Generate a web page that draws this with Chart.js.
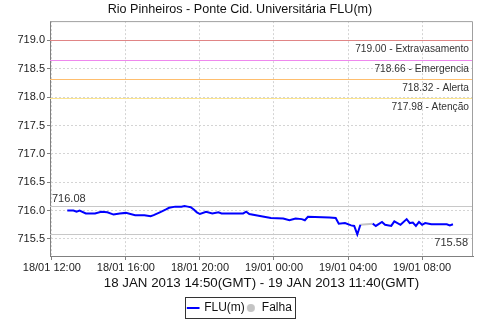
<!DOCTYPE html>
<html>
<head>
<meta charset="utf-8">
<title>Rio Pinheiros - Ponte Cid. Universitária FLU(m)</title>
<script src="https://cdn.jsdelivr.net/npm/chart.js@4/dist/chart.umd.min.js"></script>
<style>
  html, body { margin: 0; padding: 0; background: #fff; }
</style>
</head>
<body>
<canvas id="chart" width="480" height="320"></canvas>
<script>
// Data (local time, dd/mm hh:mm)
const floTimes = [
  "18/01 12:50", "18/01 13:10", "18/01 13:20", "18/01 13:30", "18/01 13:50", "18/01 14:20",
  "18/01 14:40", "18/01 15:00", "18/01 15:20", "18/01 15:40", "18/01 16:00", "18/01 16:30",
  "18/01 17:00", "18/01 17:20", "18/01 17:30", "18/01 17:50", "18/01 18:10", "18/01 18:20",
  "18/01 18:40", "18/01 19:00", "18/01 19:10", "18/01 19:20", "18/01 19:30", "18/01 19:40",
  "18/01 19:50", "18/01 20:00", "18/01 20:20", "18/01 20:40", "18/01 21:00", "18/01 21:10",
  "18/01 22:20", "18/01 22:30", "18/01 22:40", "18/01 23:10", "18/01 23:50", "19/01 00:30",
  "19/01 00:50", "19/01 01:10", "19/01 01:30", "19/01 01:40", "19/01 01:50", "19/01 03:00",
  "19/01 03:20", "19/01 03:30", "19/01 03:50", "19/01 04:10", "19/01 04:20", "19/01 04:30",
  "19/01 04:40", "19/01 05:00", "19/01 05:20", "19/01 05:30", "19/01 05:50", "19/01 06:00",
  "19/01 06:20", "19/01 06:30", "19/01 06:50", "19/01 07:10", "19/01 07:20", "19/01 07:30",
  "19/01 07:40", "19/01 07:50", "19/01 08:00", "19/01 08:10", "19/01 08:30", "19/01 09:20",
  "19/01 09:30", "19/01 09:40"
]
const floValues = [
  716.00, 716.00, 715.98, 716.00, 715.95, 715.95,
  715.98, 715.97, 715.93, 715.95, 715.96, 715.92,
  715.92, 715.90, 715.92, 715.97, 716.02, 716.05,
  716.07, 716.07, 716.08, 716.07, 716.06, 716.02,
  715.97, 715.94, 715.98, 715.95, 715.97, 715.95,
  715.95, 715.98, 715.94, 715.91, 715.87, 715.86,
  715.83, 715.86, 715.85, 715.83, 715.89, 715.88,
  715.87, 715.77, 715.78, 715.74, 715.73, 715.58,
  715.75, null, 715.77, 715.73, 715.80, 715.75,
  715.73, 715.81, 715.75, 715.85, 715.78, 715.79,
  715.73, 715.80, 715.75, 715.78, 715.76, 715.76,
  715.74, 715.76
]
// Failure gap (drawn grey)
const falhaTimes = ["19/01 04:40", "19/01 05:20"]
const falhaValues = [715.75, 715.77]

// Alarm levels
const limitValues = [719.00, 718.66, 718.32, 717.98]
const limitNames = ["Extravasamento", "Emergencia", "Alerta", "Atenção"]

// Axes
const xTicks = ["18/01 12:00", "18/01 16:00", "18/01 20:00", "19/01 00:00", "19/01 04:00", "19/01 08:00"]
const xRange = ["18/01 11:54", "19/01 10:45"]
const yTicks = [715.5, 716.0, 716.5, 717.0, 717.5, 718.0, 718.5, 719.0]
const yRange = [715.2, 719.34]

const chartTitle = "Rio Pinheiros - Ponte Cid. Universitária FLU(m)"
const xTitle = "18 JAN 2013 14:50(GMT) - 19 JAN 2013 11:40(GMT)"

const FONT = '"Liberation Sans", Arial, sans-serif'
const limitColors = ["rgb(224,133,133)", "rgb(238,136,238)", "rgb(255,190,110)", "rgb(251,228,143)"]
const PAD_BOTTOM = -4

function toMinutes(s) {
  const [d, hm] = s.split(" ")
  const day = Number(d.split("/")[0])
  const [h, m] = hm.split(":").map(Number)
  return (day - 18) * 1440 + h * 60 + m
}

function fmtMinutes(v) {
  const dayOff = Math.floor(v / 1440)
  const rest = v - dayOff * 1440
  const h = Math.floor(rest / 60)
  const m = rest % 60
  return (18 + dayOff) + "/01 " + String(h).padStart(2, "0") + ":" + String(m).padStart(2, "0")
}

// small grey dot for the "Falha" legend entry
const dot = document.createElement("canvas")
dot.width = 10
dot.height = 10
const dctx = dot.getContext("2d")
dctx.fillStyle = "#c4c4c4"
dctx.beginPath()
dctx.arc(5, 5, 4, 0, Math.PI * 2)
dctx.fill()

const validValues = floValues.filter((v) => v !== null)
const maxVal = Math.max(...validValues)
const minVal = Math.min(...validValues)

// Reference lines, labels and frame
const refLines = {
  id: "refLines",
  beforeDatasetsDraw(chart) {
    const { ctx, chartArea: a, scales: { y } } = chart
    ctx.save()
    ctx.setLineDash([])
    ctx.lineWidth = 1

    // alarm levels
    ctx.font = "10.2px " + FONT
    ctx.textAlign = "right"
    ctx.textBaseline = "middle"
    for (let i = 0; i < limitValues.length; i++) {
      const v = limitValues[i]
      const py = Math.round(y.getPixelForValue(v)) + 0.5
      ctx.beginPath()
      ctx.strokeStyle = limitColors[i]
      ctx.moveTo(a.left, py)
      ctx.lineTo(a.right, py)
      ctx.stroke()
      ctx.fillStyle = "#333"
      ctx.fillText(v.toFixed(2) + " - " + limitNames[i], a.right - 4, py + 8.5)
    }

    // max / min of the series
    ctx.font = "11px " + FONT
    ctx.strokeStyle = "#c8c8c8"
    const pMax = Math.round(y.getPixelForValue(maxVal)) + 0.5
    const pMin = Math.round(y.getPixelForValue(minVal)) + 0.5
    ctx.beginPath()
    ctx.moveTo(a.left, pMax)
    ctx.lineTo(a.right, pMax)
    ctx.moveTo(a.left, pMin)
    ctx.lineTo(a.right, pMin)
    ctx.stroke()
    ctx.fillStyle = "#333"
    ctx.textAlign = "left"
    ctx.fillText(maxVal.toFixed(2), a.left + 2, pMax - 8)
    ctx.textAlign = "right"
    ctx.fillText(minVal.toFixed(2), a.right - 5, pMin + 8)

    // top and right frame
    ctx.strokeStyle = "#a0a0a0"
    ctx.beginPath()
    ctx.moveTo(a.left, a.top + 0.5)
    ctx.lineTo(a.right - 0.5, a.top + 0.5)
    ctx.lineTo(a.right - 0.5, a.bottom)
    ctx.stroke()
    ctx.restore()
  },
  afterDraw(chart) {
    // box round the legend
    const boxes = chart.legend.legendHitBoxes
    if (!boxes || !boxes.length) return
    const first = boxes[0]
    const last = boxes[boxes.length - 1]
    const ctx = chart.ctx
    ctx.save()
    ctx.strokeStyle = "#333"
    ctx.lineWidth = 1
    const x1 = Math.round(first.left) - 2.5
    const x2 = Math.round(last.left + last.width) + 3.5
    const y1 = Math.round(first.top) - 4.5
    const y2 = Math.round(first.top + first.height) + 4.5
    ctx.strokeRect(x1, y1, x2 - x1, y2 - y1)
    ctx.restore()
  },
}

new Chart(document.getElementById("chart"), {
  type: "line",
  data: {
    datasets: [
      {
        label: "FLU(m)",
        data: floTimes.map((t, i) => ({ x: toMinutes(t), y: floValues[i] })),
        borderColor: "#0000ff",
        backgroundColor: "#0000ff",
        borderWidth: 2,
        pointRadius: 0,
        pointStyle: "line",
        spanGaps: false,
        tension: 0,
      },
      {
        label: "Falha",
        data: falhaTimes.map((t, i) => ({ x: toMinutes(t), y: falhaValues[i] })),
        borderColor: "#c4c4c4",
        backgroundColor: "#c4c4c4",
        borderWidth: 2,
        pointRadius: 0,
        pointStyle: dot,
        tension: 0,
      },
    ],
  },
  options: {
    responsive: false,
    animation: false,
    devicePixelRatio: 1,
    layout: { padding: { left: 0, right: 0, top: 0, bottom: PAD_BOTTOM } },
    plugins: {
      title: {
        display: true,
        text: chartTitle,
        color: "#111",
        font: { family: FONT, size: 12.6, weight: "normal" },
        padding: { top: 2, bottom: 4 },
      },
      legend: {
        position: "bottom",
        labels: {
          usePointStyle: true,
          boxWidth: 10,
          boxHeight: 9,
          padding: 1,
          color: "#111",
          font: { family: FONT, size: 12 },
        },
      },
      tooltip: { enabled: false },
    },
    scales: {
      x: {
        type: "linear",
        min: toMinutes(xRange[0]),
        max: toMinutes(xRange[1]),
        afterBuildTicks: (s) => {
          s.ticks = xTicks.map((t) => ({ value: toMinutes(t) }))
        },
        afterFit: (s) => {
          s.height = 320 - PAD_BOTTOM - 256 - s.chart.legend.height
        },
        ticks: {
          callback: (v) => fmtMinutes(v),
          color: "#222",
          font: { family: FONT, size: 11 },
          padding: 1,
          maxRotation: 0,
          autoSkip: false,
        },
        grid: { color: "#d4d4d4", tickColor: "#808080", tickLength: 4 },
        border: { color: "#808080", dash: [2, 2] },
        title: {
          display: true,
          text: xTitle,
          color: "#111",
          font: { family: FONT, size: 13.3 },
          padding: { top: 0, bottom: 10 },
        },
      },
      y: {
        min: yRange[0],
        max: yRange[1],
        afterBuildTicks: (s) => {
          s.ticks = yTicks.map((v) => ({ value: v }))
        },
        afterFit: (s) => {
          s.width = 50
        },
        ticks: {
          callback: (v) => v.toFixed(1),
          color: "#222",
          font: { family: FONT, size: 11 },
          padding: 2,
        },
        grid: { color: "#d4d4d4", tickColor: "#808080", tickLength: 3 },
        border: { color: "#808080", dash: [2, 2] },
      },
      y2: {
        position: "right",
        afterFit: (s) => {
          s.width = 7
        },
        ticks: { display: false },
        grid: { display: false },
        border: { display: false },
      },
    },
  },
  plugins: [refLines],
})
</script>
</body>
</html>
